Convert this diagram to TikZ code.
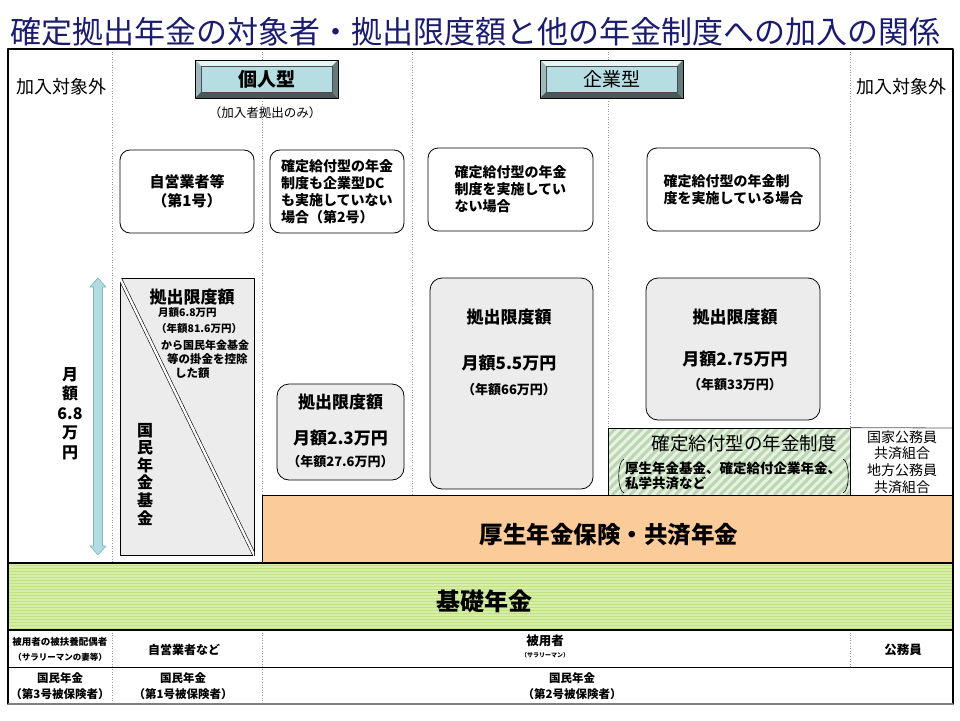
\documentclass[tikz,border=0pt]{standalone}
\usepackage{fontspec}
\setmainfont{Noto Sans CJK JP}
\definecolor{ttl}{RGB}{28,28,110}
\definecolor{btnf}{RGB}{182,222,226}
\definecolor{boxg}{RGB}{236,236,236}
\definecolor{orng}{RGB}{252,203,154}
\definecolor{grn}{RGB}{214,238,166}
\definecolor{grnl}{RGB}{192,224,132}
\definecolor{dbf}{RGB}{232,242,226}
\definecolor{dbl}{RGB}{186,214,178}
\definecolor{arrf}{RGB}{176,220,226}
\definecolor{arrd}{RGB}{130,180,190}
\newcommand\jfs[2]{\fontsize{#1}{#2}\selectfont}
\tikzset{
  rbox/.style={draw,rounded corners=10pt,fill=white,line width=0.8pt,align=center,inner sep=0pt},
  gbox/.style={draw,rounded corners=12pt,fill=boxg,line width=0.8pt,inner sep=0pt},
  dv/.style={draw=gray!80,dotted,line width=0.6pt},
}
\begin{document}
\begin{tikzpicture}[x=1pt,y=-1pt,line join=round,font=\bfseries\jfs{14}{17}]
\useasboundingbox (0,0) rectangle (960,720);
% title
\node[anchor=west,text=ttl,font=\mdseries\jfs{31}{34},inner sep=0] (ttl) at (10,32) {確定拠出年金の対象者・拠出限度額と他の年金制度への加入の関係};
% column dividers
\foreach \x/\yb in {112/563,262/495,412/495,608/428,850/428}
  \draw[dv] (\x,49) -- (\x,\yb);
\foreach \x in {112,262}
  \draw[dv] (\x,630) -- (\x,704);
\draw[dv] (850,630) -- (850,667);
% outside
\node[font=\mdseries\jfs{18}{20}] (outl) at (61.5,87) {加入対象外};
\node[font=\mdseries\jfs{18}{20}] (outr) at (901.5,87) {加入対象外};
% buttons
\foreach \x/\nm/\txt in {195/kojin/{\bfseries 個人型},540/kigyo/{\mdseries 企業型}}{
  \fill[btnf!35!white] (\x,60) -- (\x+143,60) -- (\x+137,66) -- (\x+6,66) -- cycle;
  \fill[btnf!60!gray] (\x,60) -- (\x+6,66) -- (\x+6,92) -- (\x,98) -- cycle;
  \fill[btnf!40!black] (\x,98) -- (\x+6,92) -- (\x+137,92) -- (\x+143,98) -- cycle;
  \fill[btnf!55!black] (\x+143,60) -- (\x+137,66) -- (\x+137,92) -- (\x+143,98) -- cycle;
  \draw[fill=btnf,draw=black!70,line width=0.4pt] (\x+6,66) rectangle (\x+137,92);
  \draw[line width=1pt] (\x,60) rectangle (\x+143,98);
  \node[font=\jfs{19}{21}] (\nm) at (\x+71.5,79.5) {\txt};
}
\node[font=\mdseries\jfs{12.5}{15}] (kanyu) at (265,113) {（加入者拠出のみ）};
% top row
\node[rbox,minimum width=134pt,minimum height=83pt,font=\bfseries\jfs{15}{19}] (dai1) at (187,191.5) {自営業者等\\（第1号）};
\node[rbox,align=left,minimum width=134pt,minimum height=83pt] (dai2) at (337,191.5) {確定給付型の年金\\制度も企業型DC\\も実施していない\\場合（第2号）};
\node[rbox,align=left,minimum width=165pt,minimum height=83pt] (nodb) at (510.5,189.5) {確定給付型の年金\\制度を実施してい\\ない場合};
\node[rbox,align=left,minimum width=173pt,minimum height=83pt] (hasdb) at (733.5,189.5) {確定給付型の年金制\\度を実施している場合};
% range arrow
\draw[fill=arrf,draw=arrd,line width=0.6pt] (98,278) -- (106,287) -- (102.5,287) -- (102.5,546) -- (106,546) -- (98,555) -- (90,546) -- (93.5,546) -- (93.5,287) -- (90,287) -- cycle;
\node[align=center,font=\bfseries\jfs{16}{19.5}] (getsu) at (70,413.5) {月\\額\\6.8\\万\\円};
% kikin box
\node[draw,fill=boxg,line width=0.8pt,minimum width=134pt,minimum height=277pt,inner sep=0pt] (kikin) at (187,416.5) {};
\begin{scope}
  \clip (120,278) rectangle (254,555);
  \draw[double,double distance=2.4pt,line width=0.6pt] (kikin.north west) -- (kikin.south east);
\end{scope}
\node[font=\bfseries\jfs{17}{19}] (gendo1) at (192,297) {拠出限度額};
\foreach \nm/\xx/\yy/\s/\t in {k1/158/313/10.5/月額6.8万円,k2/156/329/10.5/（年額81.6万円）,k3/161/345/11/から国民年金基金,k4/167/359/11.5/等の掛金を控除,k5/175/373/11.5/した額}
  \node[anchor=west,inner sep=0pt,font=\bfseries\jfs{\s}{\s}] (\nm) at (\xx,\yy) {\t};
\node[align=center,font=\bfseries\jfs{16}{17.6}] (kikinv) at (145,474) {国\\民\\年\\金\\基\\金};
% 2.3
\node[gbox,minimum width=127pt,minimum height=96pt] (g23) at (340.5,432) {};
\node[font=\bfseries\jfs{17}{19}] (g23a) at (340.5,402) {拠出限度額};
\node[font=\bfseries\jfs{17}{19}] (g23b) at (340.5,438) {月額2.3万円};
\node[font=\bfseries\jfs{13}{15}] (g23c) at (340.5,462) {（年額27.6万円）};
% 5.5
\node[gbox,minimum width=163pt,minimum height=211pt] (g55) at (511.5,383.5) {};
\node[font=\bfseries\jfs{17}{19}] (g55a) at (509,317) {拠出限度額};
\node[font=\bfseries\jfs{17}{19}] (g55b) at (509,363) {月額5.5万円};
\node[font=\bfseries\jfs{13}{15}] (g55c) at (509,390) {（年額66万円）};
% 2.75
\node[gbox,minimum width=174pt,minimum height=142pt] (g275) at (733,349) {};
\node[font=\bfseries\jfs{17}{19}] (g275a) at (735,317) {拠出限度額};
\node[font=\bfseries\jfs{17}{19}] (g275b) at (735,359) {月額2.75万円};
\node[font=\bfseries\jfs{13}{15}] (g275c) at (735,385) {（年額33万円）};
% DB system
\begin{scope}
  \clip (608,428) rectangle (850,495);
  \fill[dbf] (608,428) rectangle (850,495);
  \foreach \i in {0,9,...,320}
    \draw[dbl,line width=3pt] (540+\i,495) -- ++(70,-70);
\end{scope}
\node[draw,line width=0.8pt,minimum width=242pt,minimum height=67pt,inner sep=0pt] (dbsys) at (729,461.5) {};
\node[font=\mdseries\jfs{18.5}{20}] (dbttl) at (744,443) {確定給付型の年金制度};
\node[anchor=west,align=left,inner sep=0pt,font=\bfseries\jfs{13.5}{14.5}] (dbsub) at (625,476) {厚生年金基金、確定給付企業年金、\\私学共済など};
\draw[line width=0.6pt] (624,459) .. controls (617,461) and (617,491) .. (624,493);
\draw[line width=0.6pt] (843,459) .. controls (850,461) and (850,491) .. (843,493);
% kyosai
\draw[gray!70!black,line width=0.8pt] (dbsys.north east) -- (953,428);
\node[align=center,font=\mdseries\jfs{14}{16.6}] (kyosai) at (902,462) {国家公務員\\共済組合\\地方公務員\\共済組合};
% kosei
\node[draw,fill=orng,line width=0.8pt,minimum width=691pt,minimum height=68pt,inner sep=0pt] (kosei) at (607.5,529) {};
\node[font=\bfseries\jfs{23.5}{25}] (koseit) at (609,535) {厚生年金保険・共済年金};
% kiso
\fill[grn] (8,563) rectangle (953,630);
\foreach \yy in {565,568,...,628}
  \draw[grnl,line width=0.7pt] (8,\yy) -- (953,\yy);
\draw[line width=1.2pt] (8,563) -- (953,563);
\node[font=\bfseries\jfs{24}{26}] (kiso) at (484,601) {基礎年金};
% bottom rows
\draw[line width=1.8pt] (8,630) -- (953,630);
\draw[line width=0.8pt] (8,667) -- (953,667);
\node[font=\bfseries\jfs{9.5}{11}] (fuyo1) at (60,642) {被用者の被扶養配偶者};
\node[font=\bfseries\jfs{8.5}{10}] (fuyo2) at (60,657) {（サラリーマンの妻等）};
\node[font=\bfseries\jfs{12}{14}] (jiei) at (184,650) {自営業者など};
\node[font=\bfseries\jfs{12.5}{14}] (hiyo) at (545,641) {被用者};
\node[font=\bfseries\jfs{6}{8}] (sala) at (545,655) {（サラリーマン）};
\node[font=\bfseries\jfs{12.5}{14}] (komu) at (903,650) {公務員};
\node[align=center,font=\bfseries\jfs{11.5}{16}] (kokumin3) at (60,686.5) {国民年金\\（第3号被保険者）};
\node[align=center,font=\bfseries\jfs{11.5}{16}] (kokumin1) at (183,686.5) {国民年金\\（第1号被保険者）};
\node[align=center,font=\bfseries\jfs{11.5}{16}] (kokumin2) at (572,686.5) {国民年金\\（第2号被保険者）};
% frame
\draw[line width=1.2pt] (8,49) rectangle (953,704);
\draw[gray,line width=2pt] (8,704) -- (953,704);
\end{tikzpicture}
\end{document}
